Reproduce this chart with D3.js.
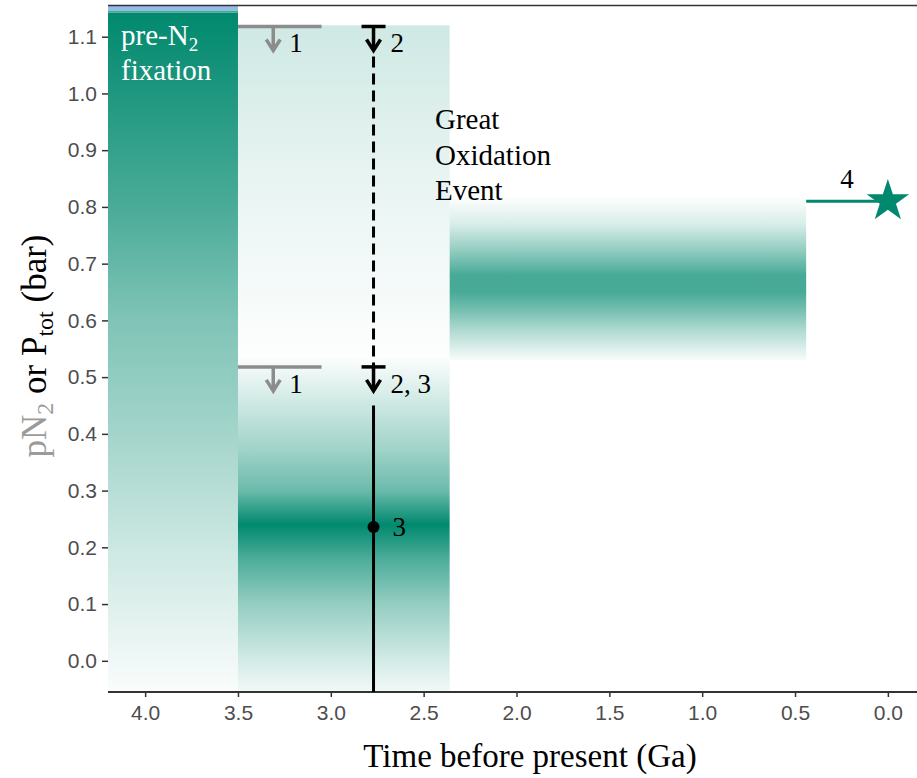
<!DOCTYPE html>
<html>
<head>
<meta charset="utf-8">
<script src="https://cdn.jsdelivr.net/npm/d3@7"></script>
<style>
  body { margin: 0; background: #fff; }
  .serif { font-family: "Liberation Serif", "Times New Roman", serif; }
  .tick text { font-family: "Liberation Sans", Arial, sans-serif; font-size: 21px; fill: #4d4d4d; }
</style>
</head>
<body>
<script>
// ticks
var ageTicks = [4.0, 3.5, 3.0, 2.5, 2.0, 1.5, 1.0, 0.5, 0.0];
var pressureTicks = [0.0, 0.1, 0.2, 0.3, 0.4, 0.5, 0.6, 0.7, 0.8, 0.9, 1.0, 1.1];

// shaded ranges (Ga from, Ga to) and their colour profile (pressure level -> opacity)
var shadeNames = ["preN2", "archeanUpper", "archeanLower", "goe"];
var shadeAgeFrom = [4.2, 3.5, 3.5, 2.36];
var shadeAgeTo = [3.5, 2.36, 2.36, 0.44];
var shadeLevels = [
  [1.142, 1.0, 0.8, 0.6, 0.4, 0.2, 0.0, -0.055],
  [1.12, 0.85, 0.54],
  [0.54, 0.45, 0.37, 0.3, 0.24, 0.18, 0.1, 0.0, -0.055],
  [0.82, 0.77, 0.72, 0.68, 0.65, 0.62, 0.58, 0.53]
];
var shadeAlpha = [
  [1.0, 0.88, 0.71, 0.5, 0.36, 0.2, 0.06, 0.02],
  [0.19, 0.09, 0.01],
  [0.0, 0.2, 0.38, 0.58, 1.0, 0.7, 0.42, 0.17, 0.05],
  [0.0, 0.15, 0.45, 0.72, 0.72, 0.55, 0.3, 0.03]
];

// upper limits (1 = grey, 2 / 2,3 = black)
var greyLimitP = [1.118, 0.518];
var greyLimitAge = [3.5, 3.05];
var greyArrowAge = 3.31;
var blackLimitP = [1.118, 0.518];
var blackLimitLabel = ["2", "2, 3"];
var blackAge = 2.77;
var dashedRange = [1.118, 0.518];
var solidRange = [-0.055, 0.45];
var estimateP = 0.236;

// modern value
var modernAge = 0.0;
var modernP = 0.81;
var modernLineAge = [0.44, 0.0];

var teal = "#00896e";

var breedte = 917, hoogte = 778;
var svg = d3.select("body").append("svg")
    .attr("width", breedte)
    .attr("height", hoogte);

var x = d3.scaleLinear().domain([4.2, -0.2]).range([108, 925]);
var y = d3.scaleLinear().domain([-0.055, 1.155]).range([692, 5.5]);

var defs = svg.append("defs");

// gradients for the shaded boxes
shadeNames.forEach(function(naam, i) {
  var lev = shadeLevels[i];
  var y1 = y(lev[0]), y2 = y(lev[lev.length - 1]);
  var grad = defs.append("linearGradient")
      .attr("id", "grad-" + naam)
      .attr("gradientUnits", "userSpaceOnUse")
      .attr("x1", 0).attr("x2", 0)
      .attr("y1", y1).attr("y2", y2);
  lev.forEach(function(l, j) {
    grad.append("stop")
        .attr("offset", (y(l) - y1) / (y2 - y1))
        .attr("stop-color", teal)
        .attr("stop-opacity", shadeAlpha[i][j]);
  });
  svg.append("rect")
      .attr("x", x(shadeAgeFrom[i]))
      .attr("width", x(shadeAgeTo[i]) - x(shadeAgeFrom[i]))
      .attr("y", y1)
      .attr("height", y2 - y1)
      .attr("fill", "url(#grad-" + naam + ")");
});

// blue strip on top of the pre-N2 box
svg.append("rect")
    .attr("x", x(4.2)).attr("width", x(3.5) - x(4.2))
    .attr("y", y(1.155)).attr("height", y(1.146) - y(1.155))
    .attr("fill", "#93bce8");
svg.append("rect")
    .attr("x", x(4.2)).attr("width", x(3.5) - x(4.2))
    .attr("y", y(1.146)).attr("height", y(1.142) - y(1.146))
    .attr("fill", "#4aa79b");

// top border
svg.append("line")
    .attr("x1", 108).attr("x2", breedte)
    .attr("y1", y(1.155)).attr("y2", y(1.155))
    .attr("stroke", "#333").attr("stroke-width", 1.5);

// x axis
var asX = d3.axisBottom(x).tickValues(ageTicks).tickFormat(d3.format(".1f"))
    .tickSize(5).tickPadding(8);
var gx = svg.append("g")
    .attr("transform", "translate(0," + y(-0.055) + ")")
    .call(asX);
gx.select(".domain").remove();
gx.selectAll(".tick line").attr("stroke", "#333").attr("stroke-width", 1.5);
gx.append("line")
    .attr("x1", 108).attr("x2", breedte)
    .attr("stroke", "#333").attr("stroke-width", 2);

// y axis
var asY = d3.axisLeft(y).tickValues(pressureTicks).tickFormat(d3.format(".1f"))
    .tickSize(6).tickPadding(5);
var gy = svg.append("g")
    .attr("transform", "translate(108,0)")
    .call(asY);
gy.select(".domain").remove();
gy.selectAll(".tick line").attr("stroke", "#333").attr("stroke-width", 1.5);

// axis titles
svg.append("text")
    .attr("class", "serif")
    .attr("x", 530).attr("y", 767)
    .attr("text-anchor", "middle")
    .attr("font-size", 33)
    .attr("fill", "#000")
    .text("Time before present (Ga)");

var yTitel = svg.append("text")
    .attr("class", "serif")
    .attr("transform", "translate(46,346) rotate(-90)")
    .attr("text-anchor", "middle")
    .attr("font-size", 35);
yTitel.append("tspan").attr("fill", "#9b9b9b").text("pN");
yTitel.append("tspan").attr("fill", "#9b9b9b").attr("font-size", 24).attr("dy", 7).text("2");
yTitel.append("tspan").attr("fill", "#000").attr("dy", -7).text(" or P");
yTitel.append("tspan").attr("fill", "#000").attr("font-size", 24).attr("dy", 7).text("tot");
yTitel.append("tspan").attr("fill", "#000").attr("dy", -7).text(" (bar)");

var pijlLengte = 24;
function pijl(g, ax, p, kleur) {
  var px = x(ax), py = y(p);
  g.append("line")
      .attr("x1", px).attr("x2", px)
      .attr("y1", py).attr("y2", py + pijlLengte - 1)
      .attr("stroke", kleur).attr("stroke-width", 3.5);
  g.append("path")
      .attr("d", "M" + (px - 7) + "," + (py + pijlLengte - 11) +
                 "L" + px + "," + (py + pijlLengte) +
                 "L" + (px + 7) + "," + (py + pijlLengte - 11))
      .attr("fill", "none").attr("stroke", kleur).attr("stroke-width", 3.5)
      .attr("stroke-linejoin", "miter");
}

// grey limits (ref 1)
var grijs = "#8c8c8c";
var gGrijs = svg.append("g");
greyLimitP.forEach(function(p) {
  gGrijs.append("line")
      .attr("x1", x(greyLimitAge[0])).attr("x2", x(greyLimitAge[1]))
      .attr("y1", y(p)).attr("y2", y(p))
      .attr("stroke", grijs).attr("stroke-width", 3.5);
  pijl(gGrijs, greyArrowAge, p, grijs);
  gGrijs.append("text")
      .attr("class", "serif")
      .attr("x", x(greyArrowAge) + 16).attr("y", y(p) + 26)
      .attr("font-size", 27)
      .text("1");
});

// black limits and estimate (refs 2, 3)
var gZwart = svg.append("g");
gZwart.append("line")
    .attr("x1", x(blackAge)).attr("x2", x(blackAge))
    .attr("y1", y(dashedRange[0]) + pijlLengte + 6).attr("y2", y(dashedRange[1]))
    .attr("stroke", "#000").attr("stroke-width", 3)
    .attr("stroke-dasharray", "11,6");
gZwart.append("line")
    .attr("x1", x(blackAge)).attr("x2", x(blackAge))
    .attr("y1", y(solidRange[1])).attr("y2", y(solidRange[0]))
    .attr("stroke", "#000").attr("stroke-width", 3);
blackLimitP.forEach(function(p, i) {
  gZwart.append("line")
      .attr("x1", x(blackAge) - 12).attr("x2", x(blackAge) + 12)
      .attr("y1", y(p)).attr("y2", y(p))
      .attr("stroke", "#000").attr("stroke-width", 3.5);
  pijl(gZwart, blackAge, p, "#000");
  gZwart.append("text")
      .attr("class", "serif")
      .attr("x", x(blackAge) + 17).attr("y", y(p) + 26)
      .attr("font-size", 27)
      .text(blackLimitLabel[i]);
});
gZwart.append("circle")
    .attr("cx", x(blackAge)).attr("cy", y(estimateP))
    .attr("r", 6).attr("fill", "#000");
gZwart.append("text")
    .attr("class", "serif")
    .attr("x", x(blackAge) + 19).attr("y", y(estimateP) + 9)
    .attr("font-size", 27)
    .text("3");

// modern value (ref 4)
svg.append("line")
    .attr("x1", x(modernLineAge[0])).attr("x2", x(modernLineAge[1]))
    .attr("y1", y(modernP)).attr("y2", y(modernP))
    .attr("stroke", teal).attr("stroke-width", 3);
svg.append("path")
    .attr("d", d3.symbol(d3.symbolStar, 560)())
    .attr("transform", "translate(" + x(modernAge) + "," + y(modernP) + ")")
    .attr("fill", teal);
svg.append("text")
    .attr("class", "serif")
    .attr("x", x(0.22)).attr("y", y(modernP) - 13)
    .attr("text-anchor", "middle")
    .attr("font-size", 27)
    .text("4");

// labels
var pre = svg.append("text")
    .attr("class", "serif")
    .attr("x", 121).attr("y", 45)
    .attr("font-size", 29)
    .attr("fill", "#fff");
pre.append("tspan").text("pre-N");
pre.append("tspan").attr("font-size", 19).attr("dy", 6).text("2");
svg.append("text")
    .attr("class", "serif")
    .attr("x", 121).attr("y", 80)
    .attr("font-size", 29)
    .attr("fill", "#fff")
    .text("fixation");

var goe = ["Great", "Oxidation", "Event"];
svg.selectAll(".goe")
    .data(goe)
    .enter().append("text")
    .attr("class", "serif goe")
    .attr("x", 435)
    .attr("y", function(d, i) { return 129 + i * 35.5; })
    .attr("font-size", 29)
    .text(function(d) { return d; });
</script>
</body>
</html>
